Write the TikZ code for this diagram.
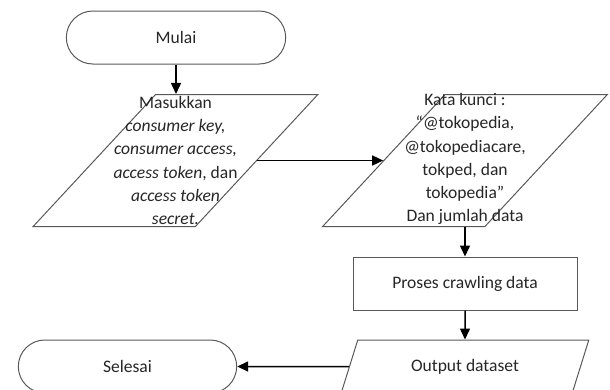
\documentclass[tikz,border=0pt]{standalone}
\usepackage{fontspec}
\setmainfont{Carlito}
\usetikzlibrary{shapes.geometric,shapes.misc,arrows.meta}

\begin{document}
\begin{tikzpicture}[x=1bp,y=-1bp,
	every node/.style={font=\fontsize{17.6}{23.2}\selectfont,text=black!85},
	terminal/.style={draw=black!65,line width=1bp,rounded rectangle,minimum width=226bp,minimum height=53bp},
	io/.style={draw=black!65,line width=1bp,trapezium,trapezium left angle=65.6,trapezium right angle=114.4,trapezium stretches=true,inner sep=2bp},
	proses/.style={draw=black!65,line width=1bp,rectangle,minimum width=224bp,minimum height=53bp},
	teks/.style={align=center,inner sep=0pt},
	panah/.style={->,line width=1.5bp,black},
	>={Triangle[length=11bp,width=10bp]}]
	\clip (0,0) rectangle (610,389);
	\useasboundingbox (0,0) rectangle (610,389);
	
	\node[terminal] (mulai) at (176,37.5) {Mulai};
	\node[io,minimum width=285bp,minimum height=132bp] (masukan) at (175.5,160.5) {\strut};
	\node[teks] (masukanteks) at (masukan.center) {Masukkan\\\textit{consumer key,}\\\textit{consumer access,}\\\textit{access token}, dan\\\textit{access token}\\\textit{secret.}};
	\node[io,minimum width=285bp,minimum height=132bp] (katakunci) at (465,160.5) {\strut};
	\node[teks] (katakunciteks) at ([yshift=1.5bp]katakunci.center) {Kata kunci :\\“@tokopedia,\\@tokopediacare,\\tokped, dan\\tokopedia”\\Dan jumlah data};
	\node[proses] (crawling) at (465,283.5) {Proses crawling data};
	\node[io,minimum width=248bp,minimum height=53bp] (output) at (465,366.5) {Output dataset};
	\node[terminal,minimum width=225bp] (selesai) at (127.5,366.5) {Selesai};
	
	\draw[panah] (mulai.south) -- (mulai.south |- masukan.north);
	\draw[panah] (masukan.east) -- (katakunci.west);
	\draw[panah] (katakunci.south) -- (crawling.north);
	\draw[panah] (crawling.south) -- (output.north);
	\draw[panah] (output.west) -- (selesai.east);
\end{tikzpicture}
\end{document}
